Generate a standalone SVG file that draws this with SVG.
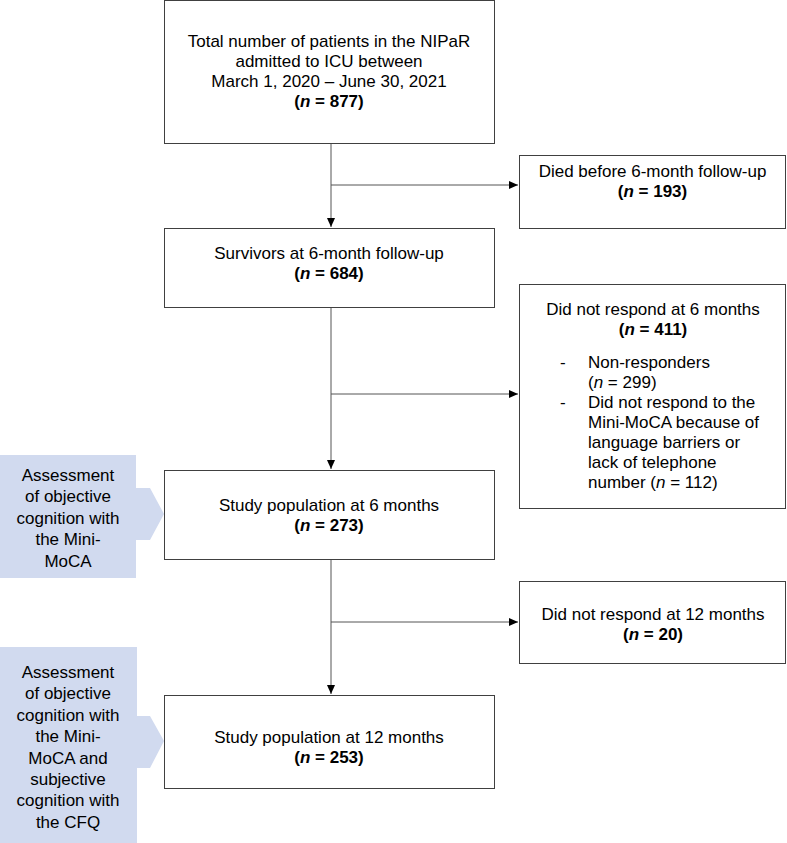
<svg xmlns="http://www.w3.org/2000/svg" width="787" height="843" viewBox="0 0 787 843">
<style>
text{font-family:"Liberation Sans",Arial,sans-serif;font-size:17px;fill:#000}
.c{text-anchor:middle}
.b{font-weight:bold}
.i{font-style:italic}
.box{fill:#fff;stroke:#404040;stroke-width:1}
.side{fill:#D1DAEF}
.ln{stroke:#555;stroke-width:1;fill:none}
</style>
<defs>
<marker id="ah" markerWidth="10" markerHeight="10" refX="9" refY="5" orient="auto" markerUnits="userSpaceOnUse">
<path d="M0,1 L9,5 L0,9 Z" fill="#000"/>
</marker>
</defs>
<g id="connectors">
<line class="ln" x1="331" y1="143" x2="331" y2="227" marker-end="url(#ah)"/>
<line class="ln" x1="331" y1="185" x2="518" y2="185" marker-end="url(#ah)"/>
<line class="ln" x1="331" y1="307" x2="331" y2="469" marker-end="url(#ah)"/>
<line class="ln" x1="331" y1="394" x2="518" y2="394" marker-end="url(#ah)"/>
<line class="ln" x1="331" y1="559" x2="331" y2="694" marker-end="url(#ah)"/>
<line class="ln" x1="331" y1="622" x2="518" y2="622" marker-end="url(#ah)"/>
</g>
<g id="total">
<rect class="box" x="164.5" y="0.5" width="330" height="143"/>
<text class="c" x="329" y="47">Total number of patients in the NIPaR</text>
<text class="c" x="329" y="67">admitted to ICU between</text>
<text class="c" x="329" y="87">March 1, 2020 – June 30, 2021</text>
<text class="c b" x="329" y="107">(<tspan class="i">n</tspan> = 877)</text>
</g>
<g id="died">
<rect class="box" x="519.5" y="155.5" width="266" height="73"/>
<text class="c" x="652.5" y="177">Died before 6-month follow-up</text>
<text class="c b" x="652.5" y="197">(<tspan class="i">n</tspan> = 193)</text>
</g>
<g id="survivors">
<rect class="box" x="164.5" y="228.5" width="330" height="79"/>
<text class="c" x="329" y="259">Survivors at 6-month follow-up</text>
<text class="c b" x="329" y="279">(<tspan class="i">n</tspan> = 684)</text>
</g>
<g id="noresp6">
<rect class="box" x="519.5" y="284.5" width="266" height="224"/>
<text class="c" x="653" y="315">Did not respond at 6 months</text>
<text class="c b" x="653" y="335">(<tspan class="i">n</tspan> = 411)</text>
<text x="560" y="368">-</text>
<text x="588" y="368">Non-responders</text>
<text x="588" y="388">(<tspan class="i">n</tspan> = 299)</text>
<text x="560" y="408">-</text>
<text x="588" y="408">Did not respond to the</text>
<text x="588" y="428">Mini-MoCA because of</text>
<text x="588" y="448">language barriers or</text>
<text x="588" y="468">lack of telephone</text>
<text x="588" y="488">number (<tspan class="i">n</tspan> = 112)</text>
</g>
<g id="study6">
<rect class="box" x="164.5" y="470.5" width="330" height="89"/>
<text class="c" x="329" y="511">Study population at 6 months</text>
<text class="c b" x="329" y="531">(<tspan class="i">n</tspan> = 273)</text>
</g>
<g id="assess6">
<path class="side" d="M0,455 H136 V488 H150 L164,514 L150,540 H136 V578 H0 Z"/>
<text class="c" x="68" y="481">Assessment</text>
<text class="c" x="68" y="502.4">of objective</text>
<text class="c" x="68" y="523.8">cognition with</text>
<text class="c" x="68" y="545.2">the Mini-</text>
<text class="c" x="68" y="566.6">MoCA</text>
</g>
<g id="noresp12">
<rect class="box" x="519.5" y="581.5" width="266" height="82"/>
<text class="c" x="653" y="620">Did not respond at 12 months</text>
<text class="c b" x="653" y="640">(<tspan class="i">n</tspan> = 20)</text>
</g>
<g id="study12">
<rect class="box" x="164.5" y="695.5" width="330" height="93"/>
<text class="c" x="329" y="743">Study population at 12 months</text>
<text class="c b" x="329" y="763">(<tspan class="i">n</tspan> = 253)</text>
</g>
<g id="assess12">
<path class="side" d="M0,647 H137 V716 H150 L164,741 L150,768 H137 V843 H0 Z"/>
<text class="c" x="68" y="678">Assessment</text>
<text class="c" x="68" y="699.4">of objective</text>
<text class="c" x="68" y="720.8">cognition with</text>
<text class="c" x="68" y="742.2">the Mini-</text>
<text class="c" x="68" y="763.6">MoCA and</text>
<text class="c" x="68" y="785">subjective</text>
<text class="c" x="68" y="806.4">cognition with</text>
<text class="c" x="68" y="827.8">the CFQ</text>
</g>
</svg>
